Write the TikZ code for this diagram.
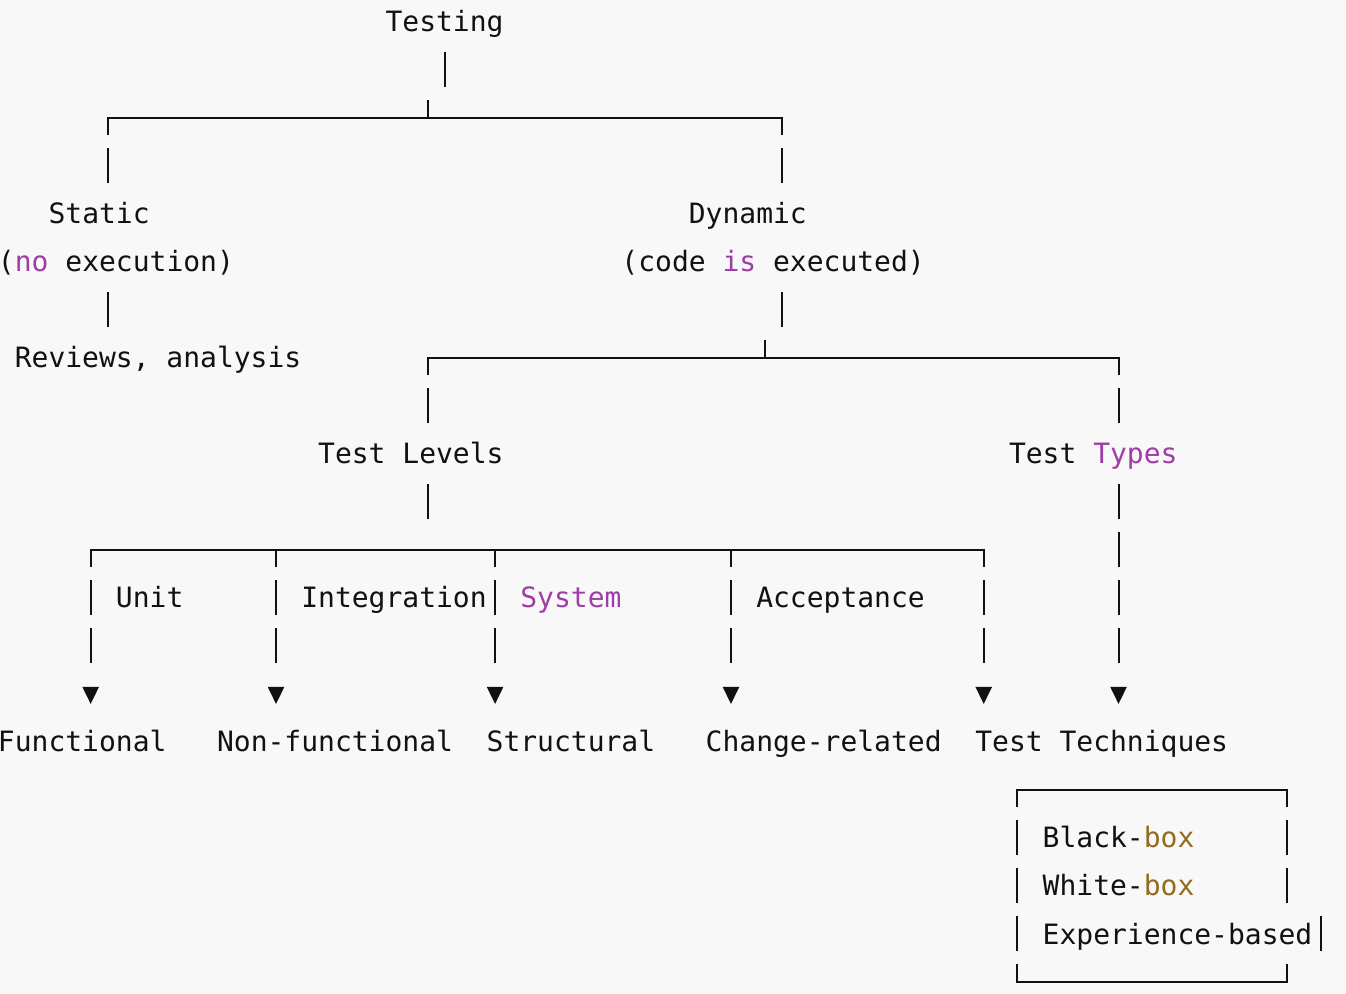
\documentclass[tikz,border=0pt]{standalone}
\usepackage{fontspec}
\setmonofont{DejaVu Sans Mono}
\usetikzlibrary{arrows.meta}
\definecolor{bg}{HTML}{F8F8F8}
\definecolor{ink}{HTML}{111111}
\definecolor{kw}{HTML}{A03CA8}
\definecolor{bx}{HTML}{956A1F}
\begin{document}
\begin{tikzpicture}[x=16.85pt,y=-48pt,
  txt/.style={anchor=base west, inner sep=0pt, outer sep=0pt, text=ink,
    font=\ttfamily\fontsize{27.99pt}{28pt}\selectfont},
  wire/.style={draw=ink, line width=2pt},
  hline/.style={wire, line cap=rect},
  bar/.style={wire, dash pattern=on 35pt off 13pt},
  vdown/.style={wire, dash pattern=on 35pt off 13pt, dash phase=18pt},
  tipT/.style={-{Triangle[length=17pt,width=16pt]}},
  levelarrow/.style={wire, tipT, dash pattern=on 17pt off 13pt on 35pt off 13pt on 35pt off 400pt},
  typesarrow/.style={wire, tipT, dash pattern=on 35pt off 13pt on 35pt off 13pt on 35pt off 13pt on 35pt off 400pt},
  rightside/.style={wire, dash pattern=on 17pt off 13pt on 35pt off 13pt on 35pt off 61pt on 18pt}
]
\fill[bg] (0.1187,-0.4375) rectangle (80.0,20.2708);
\useasboundingbox (0.1187,-0.4375) rectangle (80.0,20.2708);

% ---------- texts ----------
\node[txt] (testing) at (23,0.229) {Testing};
\node[txt] (static) at (3,4.229) {Static};
\node[txt] (dynamic) at (41,4.229) {Dynamic};
\node[txt] (noexec) at (0,5.229) {(\textcolor{kw}{no} execution)};
\node[txt] (codeexec) at (37,5.229) {(code \textcolor{kw}{is} executed)};
\node[txt] (reviews) at (1,7.229) {Reviews, analysis};
\node[txt] (levels) at (19,9.229) {Test Levels};
\node[txt] (types) at (60,9.229) {Test \textcolor{kw}{Types}};
\node[txt] (unit) at (7,12.229) {Unit};
\node[txt] (integration) at (18,12.229) {Integration};
\node[txt, text=kw] (system) at (31,12.229) {System};
\node[txt] (acceptance) at (45,12.229) {Acceptance};
\node[txt] (functional) at (0,15.229) {Functional};
\node[txt] (nonfunctional) at (13,15.229) {Non-functional};
\node[txt] (structural) at (29,15.229) {Structural};
\node[txt] (change) at (42,15.229) {Change-related};
\node[txt] (techniques) at (58,15.229) {Test Techniques};
\node[txt] (blackbox) at (62,17.229) {Black-\textcolor{bx}{box}};
\node[txt] (whitebox) at (62,18.229) {White-\textcolor{bx}{box}};
\node[txt] (experience) at (62,19.229) {Experience-based};

% ---------- coordinates ----------
\coordinate (tA) at (26.5,0.646);
\coordinate (j1) at (25.5,2.021);
\coordinate (j1l) at (6.5,2.021);
\coordinate (j1r) at (46.5,2.021);
\coordinate (sA) at (6.5,5.646);
\coordinate (dA) at (46.5,5.646);
\coordinate (j2) at (45.5,7.021);
\coordinate (j2l) at (25.5,7.021);
\coordinate (j2r) at (66.5,7.021);
\coordinate (lA) at (25.5,9.646);
\coordinate (yA) at (66.5,9.646);
\coordinate (j3l) at (5.5,11.021);
\coordinate (j3b) at (16.5,11.021);
\coordinate (j3c) at (29.5,11.021);
\coordinate (j3d) at (43.5,11.021);
\coordinate (j3r) at (58.5,11.021);
\coordinate (bTL) at (60.5,16.021);
\coordinate (bTR) at (76.5,16.021);
\coordinate (bBL) at (60.5,20.021);
\coordinate (bBR) at (76.5,20.021);
\coordinate (bX) at (78.5,18.646);

% ---------- Testing -> Static / Dynamic ----------
\draw[bar] (tA) -- (tA |- 0,1.375);
\draw[bar] (j1 |- 0,1.646) -- (j1);
\draw[hline] (j1l) -- (j1r);
\draw[vdown] (j1l) -- (j1l |- 0,3.375);
\draw[vdown] (j1r) -- (j1r |- 0,3.375);

% ---------- Static -> Reviews ----------
\draw[bar] (sA) -- (sA |- 0,6.375);

% ---------- Dynamic -> Levels / Types ----------
\draw[bar] (dA) -- (dA |- 0,6.375);
\draw[bar] (j2 |- 0,6.646) -- (j2);
\draw[hline] (j2l) -- (j2r);
\draw[vdown] (j2l) -- (j2l |- 0,8.375);
\draw[vdown] (j2r) -- (j2r |- 0,8.375);

% ---------- Test Levels -> types ----------
\draw[bar] (lA) -- (lA |- 0,10.375);
\draw[hline] (j3l) -- (j3r);
\draw[levelarrow] (j3l) -- (j3l |- 0,14.229);
\draw[levelarrow] (j3b) -- (j3b |- 0,14.229);
\draw[levelarrow] (j3c) -- (j3c |- 0,14.229);
\draw[levelarrow] (j3d) -- (j3d |- 0,14.229);
\draw[levelarrow] (j3r) -- (j3r |- 0,14.229);

% ---------- Test Types -> Test Techniques ----------
\draw[typesarrow] (yA) -- (yA |- 0,14.229);

% ---------- techniques box ----------
\draw[hline] (bTL) -- (bTR);
\draw[hline] (bBL) -- (bBR);
\draw[vdown] (bTL) -- (bBL);
\draw[rightside] (bTR) -- (bBR);
\draw[bar] (bX) -- (bX |- 0,19.375);
\end{tikzpicture}
\end{document}
